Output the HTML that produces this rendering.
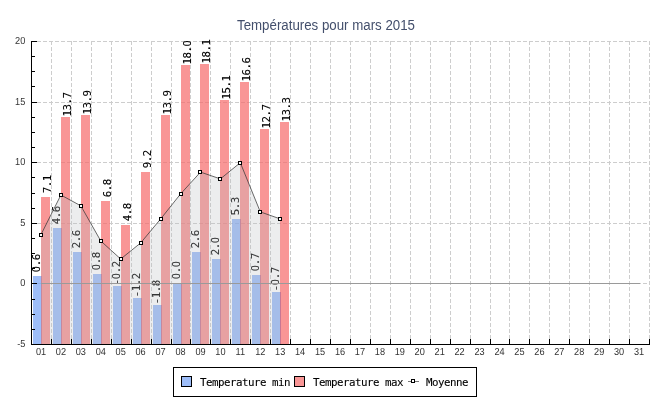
<!DOCTYPE html>
<html lang="fr"><head><meta charset="utf-8"><title>Températures pour mars 2015</title>
<style>html,body{margin:0;padding:0;background:#fff}body{width:650px;height:400px;overflow:hidden}svg{display:block}.ax{font-family:"Liberation Sans",sans-serif;font-size:10.2px;fill:#333}.mono{font-family:"DejaVu Sans Mono","Liberation Mono",monospace;font-size:10.8px;fill:#000;letter-spacing:-0.5px;stroke:#000;stroke-width:0.1px}.z{font-family:"DejaVu Sans",sans-serif;font-stretch:condensed;letter-spacing:-0.18px}.ttl{font-family:"Liberation Sans",sans-serif;font-size:14px;fill:#434f6c}</style></head><body>
<svg width="650" height="400" viewBox="0 0 650 400">
<rect width="650" height="400" fill="#fff"/>
<text class="ttl" x="237" y="29.9" textLength="178" lengthAdjust="spacingAndGlyphs">Températures pour mars 2015</text>
<g stroke="#cdcdcd" stroke-width="1" stroke-dasharray="4 2" shape-rendering="crispEdges" fill="none">
<line x1="37" y1="41.5" x2="650" y2="41.5"/>
<line x1="37" y1="102.5" x2="650" y2="102.5"/>
<line x1="37" y1="162.5" x2="650" y2="162.5"/>
<line x1="37" y1="223.5" x2="650" y2="223.5"/>
<line x1="37" y1="283.5" x2="650" y2="283.5"/>
<line x1="51.5" y1="41" x2="51.5" y2="339"/>
<line x1="71.5" y1="41" x2="71.5" y2="339"/>
<line x1="91.5" y1="41" x2="91.5" y2="339"/>
<line x1="111.5" y1="41" x2="111.5" y2="339"/>
<line x1="131.5" y1="41" x2="131.5" y2="339"/>
<line x1="151.5" y1="41" x2="151.5" y2="339"/>
<line x1="171.5" y1="41" x2="171.5" y2="339"/>
<line x1="190.5" y1="41" x2="190.5" y2="339"/>
<line x1="210.5" y1="41" x2="210.5" y2="339"/>
<line x1="230.5" y1="41" x2="230.5" y2="339"/>
<line x1="250.5" y1="41" x2="250.5" y2="339"/>
<line x1="270.5" y1="41" x2="270.5" y2="339"/>
<line x1="290.5" y1="41" x2="290.5" y2="339"/>
<line x1="310.5" y1="41" x2="310.5" y2="339"/>
<line x1="330.5" y1="41" x2="330.5" y2="339"/>
<line x1="350.5" y1="41" x2="350.5" y2="339"/>
<line x1="370.5" y1="41" x2="370.5" y2="339"/>
<line x1="390.5" y1="41" x2="390.5" y2="339"/>
<line x1="410.5" y1="41" x2="410.5" y2="339"/>
<line x1="430.5" y1="41" x2="430.5" y2="339"/>
<line x1="450.5" y1="41" x2="450.5" y2="339"/>
<line x1="470.5" y1="41" x2="470.5" y2="339"/>
<line x1="490.5" y1="41" x2="490.5" y2="339"/>
<line x1="509.5" y1="41" x2="509.5" y2="339"/>
<line x1="529.5" y1="41" x2="529.5" y2="339"/>
<line x1="549.5" y1="41" x2="549.5" y2="339"/>
<line x1="569.5" y1="41" x2="569.5" y2="339"/>
<line x1="589.5" y1="41" x2="589.5" y2="339"/>
<line x1="609.5" y1="41" x2="609.5" y2="339"/>
<line x1="629.5" y1="41" x2="629.5" y2="339"/>
<line x1="649.5" y1="41" x2="649.5" y2="339"/>
</g>
<g shape-rendering="crispEdges">
<rect x="33" y="276" width="9" height="68" fill="rgba(115,161,245,0.7)"/>
<rect x="41" y="197" width="9" height="147" fill="rgba(246,105,105,0.7)"/>
<rect x="41" y="276" width="1" height="68" fill="rgba(100,40,130,0.15)"/>
<rect x="53" y="228" width="9" height="116" fill="rgba(115,161,245,0.7)"/>
<rect x="61" y="117" width="9" height="227" fill="rgba(246,105,105,0.7)"/>
<rect x="61" y="228" width="1" height="116" fill="rgba(100,40,130,0.15)"/>
<rect x="73" y="252" width="9" height="92" fill="rgba(115,161,245,0.7)"/>
<rect x="81" y="115" width="9" height="229" fill="rgba(246,105,105,0.7)"/>
<rect x="81" y="252" width="1" height="92" fill="rgba(100,40,130,0.15)"/>
<rect x="93" y="274" width="9" height="70" fill="rgba(115,161,245,0.7)"/>
<rect x="101" y="201" width="9" height="143" fill="rgba(246,105,105,0.7)"/>
<rect x="101" y="274" width="1" height="70" fill="rgba(100,40,130,0.15)"/>
<rect x="113" y="286" width="9" height="58" fill="rgba(115,161,245,0.7)"/>
<rect x="121" y="225" width="9" height="119" fill="rgba(246,105,105,0.7)"/>
<rect x="121" y="286" width="1" height="58" fill="rgba(100,40,130,0.15)"/>
<rect x="133" y="298" width="9" height="46" fill="rgba(115,161,245,0.7)"/>
<rect x="141" y="172" width="9" height="172" fill="rgba(246,105,105,0.7)"/>
<rect x="141" y="298" width="1" height="46" fill="rgba(100,40,130,0.15)"/>
<rect x="153" y="305" width="9" height="39" fill="rgba(115,161,245,0.7)"/>
<rect x="161" y="115" width="9" height="229" fill="rgba(246,105,105,0.7)"/>
<rect x="161" y="305" width="1" height="39" fill="rgba(100,40,130,0.15)"/>
<rect x="173" y="283" width="9" height="61" fill="rgba(115,161,245,0.7)"/>
<rect x="181" y="65" width="9" height="279" fill="rgba(246,105,105,0.7)"/>
<rect x="181" y="283" width="1" height="61" fill="rgba(100,40,130,0.15)"/>
<rect x="192" y="252" width="9" height="92" fill="rgba(115,161,245,0.7)"/>
<rect x="200" y="64" width="9" height="280" fill="rgba(246,105,105,0.7)"/>
<rect x="200" y="252" width="1" height="92" fill="rgba(100,40,130,0.15)"/>
<rect x="212" y="259" width="9" height="85" fill="rgba(115,161,245,0.7)"/>
<rect x="220" y="100" width="9" height="244" fill="rgba(246,105,105,0.7)"/>
<rect x="220" y="259" width="1" height="85" fill="rgba(100,40,130,0.15)"/>
<rect x="232" y="219" width="9" height="125" fill="rgba(115,161,245,0.7)"/>
<rect x="240" y="82" width="9" height="262" fill="rgba(246,105,105,0.7)"/>
<rect x="240" y="219" width="1" height="125" fill="rgba(100,40,130,0.15)"/>
<rect x="252" y="275" width="9" height="69" fill="rgba(115,161,245,0.7)"/>
<rect x="260" y="129" width="9" height="215" fill="rgba(246,105,105,0.7)"/>
<rect x="260" y="275" width="1" height="69" fill="rgba(100,40,130,0.15)"/>
<rect x="272" y="292" width="9" height="52" fill="rgba(115,161,245,0.7)"/>
<rect x="280" y="122" width="9" height="222" fill="rgba(246,105,105,0.7)"/>
<rect x="280" y="292" width="1" height="52" fill="rgba(100,40,130,0.15)"/>
</g>
<text class="mono" text-anchor="middle" transform="translate(40.1,263.2) rotate(-90)"><tspan class="z">0</tspan>.6</text>
<text class="mono" text-anchor="middle" transform="translate(50.5,184.2) rotate(-90)">7.1</text>
<text class="mono" text-anchor="middle" transform="translate(60.1,215.2) rotate(-90)">4.6</text>
<text class="mono" text-anchor="middle" transform="translate(70.5,104.6) rotate(-90)">13.7</text>
<text class="mono" text-anchor="middle" transform="translate(80.1,239.2) rotate(-90)">2.6</text>
<text class="mono" text-anchor="middle" transform="translate(90.5,102.6) rotate(-90)">13.9</text>
<text class="mono" text-anchor="middle" transform="translate(100.1,261.2) rotate(-90)"><tspan class="z">0</tspan>.8</text>
<text class="mono" text-anchor="middle" transform="translate(110.5,188.2) rotate(-90)">6.8</text>
<text class="mono" text-anchor="middle" transform="translate(120.1,273.2) rotate(-90)">-<tspan class="z">0</tspan>.2</text>
<text class="mono" text-anchor="middle" transform="translate(130.5,212.2) rotate(-90)">4.8</text>
<text class="mono" text-anchor="middle" transform="translate(140.1,285.2) rotate(-90)">-1.2</text>
<text class="mono" text-anchor="middle" transform="translate(150.5,159.2) rotate(-90)">9.2</text>
<text class="mono" text-anchor="middle" transform="translate(160.1,292.2) rotate(-90)">-1.8</text>
<text class="mono" text-anchor="middle" transform="translate(170.5,102.6) rotate(-90)">13.9</text>
<text class="mono" text-anchor="middle" transform="translate(180.1,270.2) rotate(-90)"><tspan class="z">0</tspan>.<tspan class="z">0</tspan></text>
<text class="mono" text-anchor="middle" transform="translate(190.5,52.6) rotate(-90)">18.<tspan class="z">0</tspan></text>
<text class="mono" text-anchor="middle" transform="translate(199.1,239.2) rotate(-90)">2.6</text>
<text class="mono" text-anchor="middle" transform="translate(209.5,51.6) rotate(-90)">18.1</text>
<text class="mono" text-anchor="middle" transform="translate(219.1,246.2) rotate(-90)">2.<tspan class="z">0</tspan></text>
<text class="mono" text-anchor="middle" transform="translate(229.5,87.6) rotate(-90)">15.1</text>
<text class="mono" text-anchor="middle" transform="translate(239.1,206.2) rotate(-90)">5.3</text>
<text class="mono" text-anchor="middle" transform="translate(249.5,69.6) rotate(-90)">16.6</text>
<text class="mono" text-anchor="middle" transform="translate(259.1,262.2) rotate(-90)"><tspan class="z">0</tspan>.7</text>
<text class="mono" text-anchor="middle" transform="translate(269.5,116.6) rotate(-90)">12.7</text>
<text class="mono" text-anchor="middle" transform="translate(279.1,279.2) rotate(-90)">-<tspan class="z">0</tspan>.7</text>
<text class="mono" text-anchor="middle" transform="translate(289.5,109.6) rotate(-90)">13.3</text>
<polygon points="41.0,344 41.0,234.6 60.9,195.0 80.8,205.8 100.8,241.0 120.7,259.0 140.6,243.0 160.6,219.0 180.5,194.0 200.5,172.1 220.4,178.9 240.3,162.7 260.3,211.9 280.2,218.9 280.2,344" fill="rgba(185,190,195,0.28)"/>
<line x1="41" y1="283.5" x2="640" y2="283.5" stroke="#9a9a9a" stroke-width="1" shape-rendering="crispEdges"/>
<g stroke="#000" stroke-width="1" shape-rendering="crispEdges" fill="none">
<line x1="31.5" y1="41" x2="31.5" y2="345"/>
<line x1="31" y1="344.5" x2="650" y2="344.5"/>
<line x1="32" y1="41.5" x2="37" y2="41.5"/>
<line x1="32" y1="56.5" x2="35" y2="56.5"/>
<line x1="32" y1="71.5" x2="35" y2="71.5"/>
<line x1="32" y1="86.5" x2="35" y2="86.5"/>
<line x1="32" y1="102.5" x2="37" y2="102.5"/>
<line x1="32" y1="117.5" x2="35" y2="117.5"/>
<line x1="32" y1="132.5" x2="35" y2="132.5"/>
<line x1="32" y1="147.5" x2="35" y2="147.5"/>
<line x1="32" y1="162.5" x2="37" y2="162.5"/>
<line x1="32" y1="177.5" x2="35" y2="177.5"/>
<line x1="32" y1="193.5" x2="35" y2="193.5"/>
<line x1="32" y1="208.5" x2="35" y2="208.5"/>
<line x1="32" y1="223.5" x2="37" y2="223.5"/>
<line x1="32" y1="238.5" x2="35" y2="238.5"/>
<line x1="32" y1="253.5" x2="35" y2="253.5"/>
<line x1="32" y1="268.5" x2="35" y2="268.5"/>
<line x1="32" y1="283.5" x2="37" y2="283.5"/>
<line x1="32" y1="299.5" x2="35" y2="299.5"/>
<line x1="32" y1="314.5" x2="35" y2="314.5"/>
<line x1="32" y1="329.5" x2="35" y2="329.5"/>
<line x1="32" y1="344.5" x2="37" y2="344.5"/>
<line x1="51.5" y1="339" x2="51.5" y2="344"/>
<line x1="71.5" y1="339" x2="71.5" y2="344"/>
<line x1="91.5" y1="339" x2="91.5" y2="344"/>
<line x1="111.5" y1="339" x2="111.5" y2="344"/>
<line x1="131.5" y1="339" x2="131.5" y2="344"/>
<line x1="151.5" y1="339" x2="151.5" y2="344"/>
<line x1="171.5" y1="339" x2="171.5" y2="344"/>
<line x1="190.5" y1="339" x2="190.5" y2="344"/>
<line x1="210.5" y1="339" x2="210.5" y2="344"/>
<line x1="230.5" y1="339" x2="230.5" y2="344"/>
<line x1="250.5" y1="339" x2="250.5" y2="344"/>
<line x1="270.5" y1="339" x2="270.5" y2="344"/>
<line x1="290.5" y1="339" x2="290.5" y2="344"/>
<line x1="310.5" y1="339" x2="310.5" y2="344"/>
<line x1="330.5" y1="339" x2="330.5" y2="344"/>
<line x1="350.5" y1="339" x2="350.5" y2="344"/>
<line x1="370.5" y1="339" x2="370.5" y2="344"/>
<line x1="390.5" y1="339" x2="390.5" y2="344"/>
<line x1="410.5" y1="339" x2="410.5" y2="344"/>
<line x1="430.5" y1="339" x2="430.5" y2="344"/>
<line x1="450.5" y1="339" x2="450.5" y2="344"/>
<line x1="470.5" y1="339" x2="470.5" y2="344"/>
<line x1="490.5" y1="339" x2="490.5" y2="344"/>
<line x1="509.5" y1="339" x2="509.5" y2="344"/>
<line x1="529.5" y1="339" x2="529.5" y2="344"/>
<line x1="549.5" y1="339" x2="549.5" y2="344"/>
<line x1="569.5" y1="339" x2="569.5" y2="344"/>
<line x1="589.5" y1="339" x2="589.5" y2="344"/>
<line x1="609.5" y1="339" x2="609.5" y2="344"/>
<line x1="629.5" y1="339" x2="629.5" y2="344"/>
<line x1="649.5" y1="339" x2="649.5" y2="344"/>
</g>
<text class="ax" transform="translate(25.3,44.0) rotate(0.05) scale(0.9,1)" text-anchor="end">20</text>
<text class="ax" transform="translate(25.3,105.0) rotate(0.05) scale(0.9,1)" text-anchor="end">15</text>
<text class="ax" transform="translate(25.3,165.0) rotate(0.05) scale(0.9,1)" text-anchor="end">10</text>
<text class="ax" transform="translate(25.3,226.0) rotate(0.05) scale(0.9,1)" text-anchor="end">5</text>
<text class="ax" transform="translate(25.3,286.0) rotate(0.05) scale(0.9,1)" text-anchor="end">0</text>
<text class="ax" transform="translate(25.3,347.0) rotate(0.05) scale(0.9,1)" text-anchor="end">-5</text>
<text class="ax" transform="translate(41.0,355) rotate(0.05) scale(0.9,1)" text-anchor="middle">01</text>
<text class="ax" transform="translate(60.9,355) rotate(0.05) scale(0.9,1)" text-anchor="middle">02</text>
<text class="ax" transform="translate(80.8,355) rotate(0.05) scale(0.9,1)" text-anchor="middle">03</text>
<text class="ax" transform="translate(100.8,355) rotate(0.05) scale(0.9,1)" text-anchor="middle">04</text>
<text class="ax" transform="translate(120.7,355) rotate(0.05) scale(0.9,1)" text-anchor="middle">05</text>
<text class="ax" transform="translate(140.6,355) rotate(0.05) scale(0.9,1)" text-anchor="middle">06</text>
<text class="ax" transform="translate(160.6,355) rotate(0.05) scale(0.9,1)" text-anchor="middle">07</text>
<text class="ax" transform="translate(180.5,355) rotate(0.05) scale(0.9,1)" text-anchor="middle">08</text>
<text class="ax" transform="translate(200.5,355) rotate(0.05) scale(0.9,1)" text-anchor="middle">09</text>
<text class="ax" transform="translate(220.4,355) rotate(0.05) scale(0.9,1)" text-anchor="middle">10</text>
<text class="ax" transform="translate(240.3,355) rotate(0.05) scale(0.9,1)" text-anchor="middle">11</text>
<text class="ax" transform="translate(260.3,355) rotate(0.05) scale(0.9,1)" text-anchor="middle">12</text>
<text class="ax" transform="translate(280.2,355) rotate(0.05) scale(0.9,1)" text-anchor="middle">13</text>
<text class="ax" transform="translate(300.1,355) rotate(0.05) scale(0.9,1)" text-anchor="middle">14</text>
<text class="ax" transform="translate(320.1,355) rotate(0.05) scale(0.9,1)" text-anchor="middle">15</text>
<text class="ax" transform="translate(340.0,355) rotate(0.05) scale(0.9,1)" text-anchor="middle">16</text>
<text class="ax" transform="translate(359.9,355) rotate(0.05) scale(0.9,1)" text-anchor="middle">17</text>
<text class="ax" transform="translate(379.9,355) rotate(0.05) scale(0.9,1)" text-anchor="middle">18</text>
<text class="ax" transform="translate(399.8,355) rotate(0.05) scale(0.9,1)" text-anchor="middle">19</text>
<text class="ax" transform="translate(419.7,355) rotate(0.05) scale(0.9,1)" text-anchor="middle">20</text>
<text class="ax" transform="translate(439.7,355) rotate(0.05) scale(0.9,1)" text-anchor="middle">21</text>
<text class="ax" transform="translate(459.6,355) rotate(0.05) scale(0.9,1)" text-anchor="middle">22</text>
<text class="ax" transform="translate(479.5,355) rotate(0.05) scale(0.9,1)" text-anchor="middle">23</text>
<text class="ax" transform="translate(499.5,355) rotate(0.05) scale(0.9,1)" text-anchor="middle">24</text>
<text class="ax" transform="translate(519.4,355) rotate(0.05) scale(0.9,1)" text-anchor="middle">25</text>
<text class="ax" transform="translate(539.4,355) rotate(0.05) scale(0.9,1)" text-anchor="middle">26</text>
<text class="ax" transform="translate(559.3,355) rotate(0.05) scale(0.9,1)" text-anchor="middle">27</text>
<text class="ax" transform="translate(579.2,355) rotate(0.05) scale(0.9,1)" text-anchor="middle">28</text>
<text class="ax" transform="translate(599.2,355) rotate(0.05) scale(0.9,1)" text-anchor="middle">29</text>
<text class="ax" transform="translate(619.1,355) rotate(0.05) scale(0.9,1)" text-anchor="middle">30</text>
<text class="ax" transform="translate(639.0,355) rotate(0.05) scale(0.9,1)" text-anchor="middle">31</text>
<polyline points="41.0,234.6 60.9,195.0 80.8,205.8 100.8,241.0 120.7,259.0 140.6,243.0 160.6,219.0 180.5,194.0 200.5,172.1 220.4,178.9 240.3,162.7 260.3,211.9 280.2,218.9" fill="none" stroke="#3a3a3a" stroke-width="0.75"/>
<g shape-rendering="crispEdges" fill="#fff" stroke="#000" stroke-width="1">
<rect x="39.5" y="233.5" width="3" height="3"/>
<rect x="59.5" y="193.5" width="3" height="3"/>
<rect x="79.5" y="204.5" width="3" height="3"/>
<rect x="99.5" y="239.5" width="3" height="3"/>
<rect x="119.5" y="257.5" width="3" height="3"/>
<rect x="139.5" y="241.5" width="3" height="3"/>
<rect x="159.5" y="217.5" width="3" height="3"/>
<rect x="179.5" y="192.5" width="3" height="3"/>
<rect x="198.5" y="170.5" width="3" height="3"/>
<rect x="218.5" y="177.5" width="3" height="3"/>
<rect x="238.5" y="161.5" width="3" height="3"/>
<rect x="258.5" y="210.5" width="3" height="3"/>
<rect x="278.5" y="217.5" width="3" height="3"/>
</g>
<g shape-rendering="crispEdges">
<rect x="173.5" y="367.5" width="303" height="29" fill="#fff" stroke="#000" stroke-width="1"/>
<rect x="181.5" y="376.5" width="10" height="10" fill="#9dbdf8" stroke="#000"/>
<rect x="294.5" y="376.5" width="10" height="10" fill="#f99696" stroke="#000"/>
<line x1="408" y1="381.5" x2="419" y2="381.5" stroke="#777"/>
<rect x="411.5" y="379.5" width="3" height="3" fill="#fff" stroke="#000"/>
</g>
<text class="mono" x="200" y="385.5" textLength="90" lengthAdjust="spacing">Temperature min</text>
<text class="mono" x="313" y="385.5" textLength="90" lengthAdjust="spacing">Temperature max</text>
<text class="mono" x="426" y="385.5" textLength="42" lengthAdjust="spacing">Moyenne</text>
</svg></body></html>
